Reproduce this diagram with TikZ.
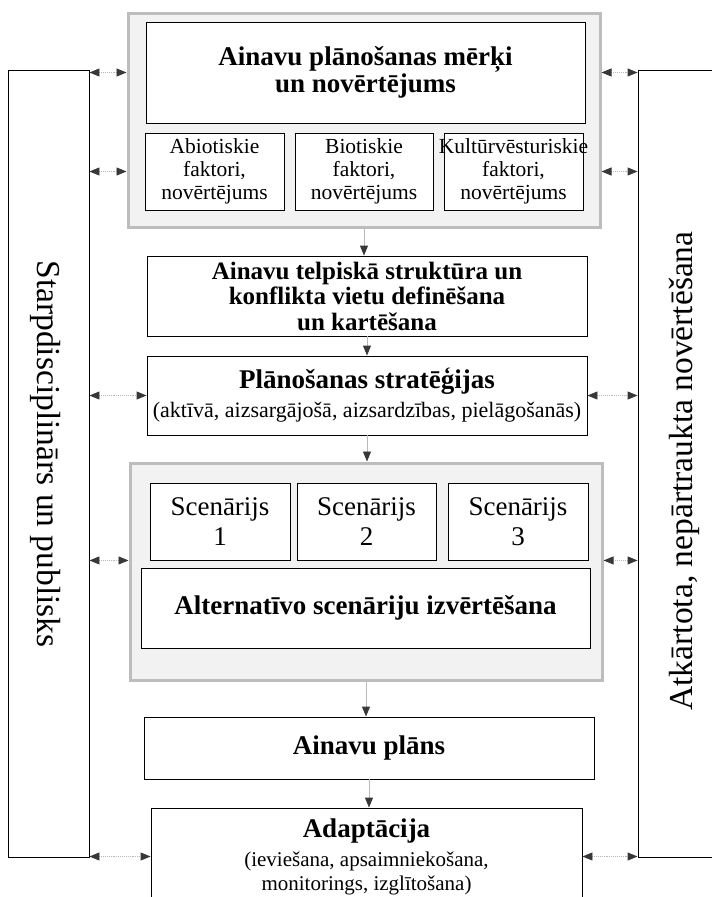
\documentclass[tikz,border=0pt]{standalone}
\usepackage{fontspec}
\setmainfont{Liberation Serif}
\usetikzlibrary{arrows.meta}
\definecolor{panelfill}{gray}{0.95}
\definecolor{panelline}{gray}{0.74}
\definecolor{tipgray}{gray}{0.22}

\begin{document}
\begin{tikzpicture}[x=1pt,y=-1pt,
  panel/.style={draw=panelline,line width=3pt,fill=panelfill,inner sep=0pt},
  box/.style={draw,line width=0.9pt,fill=white,inner sep=0pt,align=center},
  side/.style={draw,line width=0.9pt,inner sep=0pt},
  sidetext/.style={inner sep=0pt,font=\fontsize{33.5}{34}\selectfont},
  duplex/.style={draw=gray!55,densely dotted,line width=0.9pt,
    {Triangle[length=10pt,width=8pt,color=tipgray]}-{Triangle[length=10pt,width=8pt,color=tipgray]}},
  flow/.style={draw=gray!55,line width=0.9pt,-{Triangle[length=10pt,width=8pt,color=tipgray]}}]
  \useasboundingbox (0,0) rectangle (712,897);

  %%% side columns
  \node[side,minimum width=81pt,minimum height=787pt] (lbox) at (48.5,463.5) {};
  \node[side,minimum width=76pt,minimum height=787pt] (rbox) at (676,463.5) {};
  \node[sidetext,rotate=-90] (ltext) at (46,454) {Starpdisciplinārs un publisks};
  \node[sidetext,rotate=90] (rtext) at (684,471) {Atkārtota, nepārtraukta novērtēšana};

  %%% goals and factors
  \node[panel,minimum width=472pt,minimum height=214pt] (grp1) at (364,120) {};
  \node[box,minimum width=439pt,minimum height=101pt,font=\fontsize{27}{27}\bfseries\selectfont]
    (goals) at (365.5,72.5) {Ainavu plānošanas mērķi\\un novērtējums};
  \node[box,minimum width=139pt,minimum height=77pt,font=\fontsize{21.5}{23}\selectfont]
    (abio) at (214.5,171.5) {Abiotiskie\\faktori,\\novērtējums};
  \node[box,minimum width=138pt,minimum height=77pt,font=\fontsize{21.5}{23}\selectfont]
    (bio) at (364,171.5) {Biotiskie\\faktori,\\novērtējums};
  \node[box,minimum width=139pt,minimum height=77pt,font=\fontsize{21.5}{23}\selectfont]
    (kult) at (513.5,171.5) {\makebox[0pt]{Kultūrvēsturiskie}\\faktori,\\novērtējums};

  %%% structure and strategies
  \node[box,minimum width=440pt,minimum height=80pt,font=\fontsize{25}{25.5}\bfseries\selectfont]
    (telp) at (367,296) {Ainavu telpiskā struktūra un\\konflikta vietu definēšana\\un kartēšana};
  \node[box,minimum width=440pt,minimum height=79pt,font=\fontsize{22}{29}\selectfont]
    (strat) at (367,395.5) {{\fontsize{27}{27}\bfseries\selectfont Plānošanas stratēģijas}\\(aktīvā, aizsargājošā, aizsardzības, pielāgošanās)};

  %%% scenarios
  \node[panel,minimum width=472pt,minimum height=217pt] (grp2) at (366,571.5) {};
  \node[box,minimum width=140pt,minimum height=77pt,font=\fontsize{27}{30}\selectfont]
    (scen1) at (220,521.5) {Scenārijs\\1};
  \node[box,minimum width=139pt,minimum height=77pt,font=\fontsize{27}{30}\selectfont]
    (scen2) at (366.5,521.5) {Scenārijs\\2};
  \node[box,minimum width=140pt,minimum height=77pt,font=\fontsize{27}{30}\selectfont]
    (scen3) at (518,521.5) {Scenārijs\\3};
  \node[box,minimum width=449pt,minimum height=80pt,font=\fontsize{27}{27}\bfseries\selectfont]
    (alt) at (365.5,608) {Alternatīvo scenāriju izvērtēšana};

  %%% plan and adaptation
  \node[box,minimum width=450pt,minimum height=62pt,font=\fontsize{27}{27}\bfseries\selectfont]
    (plan) at (369,748) {Ainavu plāns};
  \node[box,minimum width=431pt,minimum height=97pt,font=\fontsize{21}{24}\selectfont]
    (adapt) at (366.5,856.5) {{\fontsize{27}{27}\bfseries\selectfont Adaptācija}\\[5pt](ieviešana, apsaimniekošana,\\monitorings, izglītošana)};

  %%% main flow
  \draw[flow] (grp1.south) -- (grp1.south |- telp.north);
  \draw[flow] (telp.south) -- (telp.south |- strat.north);
  \draw[flow] (strat.south) -- (strat.south |- grp2.north);
  \draw[flow] (grp2.south) -- (grp2.south |- plan.north);
  \draw[flow] (plan.south) -- (plan.south |- adapt.north);

  %%% links to the side columns
  \draw[duplex] (lbox.east |- goals) -- (grp1.west |- goals);
  \draw[duplex] (lbox.east |- abio) -- (grp1.west |- abio);
  \draw[duplex] (lbox.east |- strat) -- (strat.west);
  \draw[duplex] (lbox.east |- scen1.south) -- (grp2.west |- scen1.south);
  \draw[duplex] (lbox.east |- adapt) -- (adapt.west);
  \draw[duplex] (grp1.east |- goals) -- (rbox.west |- goals);
  \draw[duplex] (grp1.east |- kult) -- (rbox.west |- kult);
  \draw[duplex] (strat.east) -- (rbox.west |- strat);
  \draw[duplex] (grp2.east |- scen3.south) -- (rbox.west |- scen3.south);
  \draw[duplex] (adapt.east) -- (rbox.west |- adapt);
\end{tikzpicture}
\end{document}
